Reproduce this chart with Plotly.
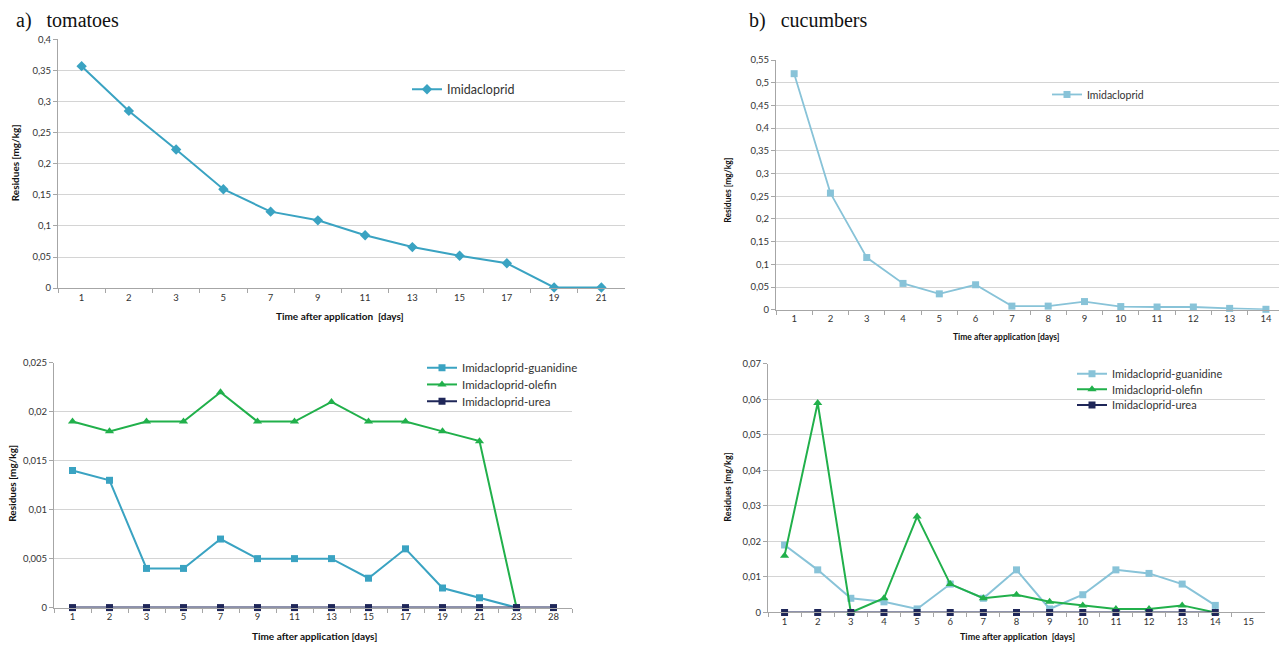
import plotly.graph_objects as go

W, H = 1279, 646

# ---------------- data ----------------
tom_days = ["1", "2", "3", "5", "7", "9", "11", "13", "15", "17", "19", "21"]
tom_imid = [0.357, 0.285, 0.223, 0.159, 0.123, 0.109, 0.085, 0.066, 0.052, 0.040, 0.001, 0.001]

cuc_days = ["1", "2", "3", "4", "5", "6", "7", "8", "9", "10", "11", "12", "13", "14"]
cuc_imid = [0.520, 0.257, 0.115, 0.058, 0.035, 0.055, 0.008, 0.008, 0.018, 0.007, 0.006, 0.006, 0.003, 0.001]

tom_met_days = ["1", "2", "3", "5", "7", "9", "11", "13", "15", "17", "19", "21", "23", "28"]
tom_guan = [0.014, 0.013, 0.004, 0.004, 0.007, 0.005, 0.005, 0.005, 0.003, 0.006, 0.002, 0.001, 0.0]
tom_olef = [0.019, 0.018, 0.019, 0.019, 0.022, 0.019, 0.019, 0.021, 0.019, 0.019, 0.018, 0.017, 0.0]
tom_urea = [0, 0, 0, 0, 0, 0, 0, 0, 0, 0, 0, 0, 0, 0]

cuc_met_days = ["1", "2", "3", "4", "5", "6", "7", "8", "9", "10", "11", "12", "13", "14", "15"]
cuc_guan = [0.019, 0.012, 0.004, 0.003, 0.001, 0.008, 0.004, 0.012, 0.001, 0.005, 0.012, 0.011, 0.008, 0.002]
cuc_olef = [0.016, 0.059, 0.0, 0.004, 0.027, 0.008, 0.004, 0.005, 0.003, 0.002, 0.001, 0.001, 0.002, 0.0]
cuc_urea = [0, 0, 0, 0, 0, 0, 0, 0, 0, 0, 0, 0, 0, 0]

# ---------------- styles ----------------
C_TOM = "#3AA3C2"
C_CUC = "#88C3D8"
C_GREEN = "#21B04B"
C_NAVY = "#1F2759"
FONT = "Lato, 'Open Sans', sans-serif"

def px_x(p):
    return p / W

def px_y(p):
    return 1 - p / H

fig = go.Figure()

def line(x, y, name, color, symbol, msize, width, xa, ya, lg):
    fig.add_trace(go.Scatter(x=x, y=y, name=name, mode="lines+markers",
                             line=dict(color=color, width=width),
                             marker=dict(symbol=symbol, size=msize, color=color),
                             xaxis=xa, yaxis=ya, legend=lg, cliponaxis=False))

line(tom_days, tom_imid, "Imidacloprid", C_TOM, "diamond", 8, 2, "x", "y", "legend")
line(cuc_days, cuc_imid, "Imidacloprid", C_CUC, "square", 7, 1.8, "x2", "y2", "legend2")
line(tom_met_days[:len(tom_guan)], tom_guan, "Imidacloprid-guanidine", C_TOM, "square", 7, 2, "x3", "y3", "legend3")
line(tom_met_days[:len(tom_olef)], tom_olef, "Imidacloprid-olefin", C_GREEN, "triangle-up", 8, 2, "x3", "y3", "legend4")
line(tom_met_days[:len(tom_urea)], tom_urea, "Imidacloprid-urea", C_NAVY, "square", 7, 2, "x3", "y3", "legend5")
line(cuc_met_days[:len(cuc_guan)], cuc_guan, "Imidacloprid-guanidine", C_CUC, "square", 7, 2, "x4", "y4", "legend6")
line(cuc_met_days[:len(cuc_olef)], cuc_olef, "Imidacloprid-olefin", C_GREEN, "triangle-up", 8, 2, "x4", "y4", "legend7")
line(cuc_met_days[:len(cuc_urea)], cuc_urea, "Imidacloprid-urea", C_NAVY, "square", 7, 2, "x4", "y4", "legend8")

def xax(domain, cats, anchor, right=None):
    r = len(cats) - 0.5 if right is None else right
    return dict(domain=domain, type="category", categoryorder="array", categoryarray=cats,
                range=[-0.5, r], anchor=anchor, showgrid=False, zeroline=False,
                showline=True, linecolor="#A6A6A6", linewidth=1, ticks="outside", tickson="boundaries",
                ticklen=4, tickcolor="#A6A6A6", tickfont=dict(size=9.5, color="#333", family=FONT),
                fixedrange=True)

def yax(domain, rng, dtick, anchor):
    return dict(domain=domain, range=rng, dtick=dtick, anchor=anchor, showgrid=True,
                gridcolor="#D4D4D4", gridwidth=1, zeroline=False, showline=True, linecolor="#A6A6A6",
                linewidth=1, ticks="outside", ticklen=4, tickcolor="#A6A6A6",
                tickfont=dict(size=9.5, color="#333", family=FONT), fixedrange=True)

def leg(x, y, size):
    return dict(x=px_x(x), y=px_y(y), xanchor="left", yanchor="middle", bgcolor="rgba(0,0,0,0)",
                font=dict(size=size, color="#333", family=FONT), itemwidth=30)

fig.update_layout(
    width=W, height=H, margin=dict(l=0, r=0, t=0, b=0),
    paper_bgcolor="white", plot_bgcolor="white", separators=", ",
    font=dict(family=FONT, color="#222"),
    xaxis=xax([px_x(58), px_x(625)], tom_days, "y"),
    yaxis=yax([px_y(287), px_y(34)], [0, 0.4], 0.05, "x"),
    xaxis2=xax([px_x(776), px_x(1279)], cuc_days, "y2", right=13.36),
    yaxis2=yax([px_y(309), px_y(55)], [0, 0.55], 0.05, "x2"),
    xaxis3=xax([px_x(54), px_x(572)], tom_met_days, "y3"),
    yaxis3=yax([px_y(612), px_y(363)], [0, 0.025], 0.005, "x3"),
    xaxis4=xax([px_x(768), px_x(1265)], cuc_met_days, "y4"),
    yaxis4=yax([px_y(617), px_y(364)], [0, 0.07], 0.01, "x4"),
    legend=leg(407, 85, 12.5),
    legend2=leg(1047, 90, 10.5),
    legend3=leg(422, 368, 11.5),
    legend4=leg(422, 385, 11.5),
    legend5=leg(422, 402, 11.5),
    legend6=leg(1072, 374, 11),
    legend7=leg(1072, 390, 11),
    legend8=leg(1072, 406, 11),
    showlegend=True,
)

ann = []
def add_text(text, x, y, size, family=FONT, bold=False, angle=0, xanchor="center"):
    ann.append(dict(text=("<b>%s</b>" % text) if bold else text, x=px_x(x), y=px_y(y),
                    xref="paper", yref="paper", showarrow=False, textangle=angle,
                    xanchor=xanchor, yanchor="middle",
                    font=dict(size=size, family=family, color="#111")))

SERIF = "'Liberation Serif', 'DejaVu Serif', serif"
add_text("a)&nbsp;&nbsp;&nbsp;tomatoes", 14, 15, 20, family=SERIF, xanchor="left")
add_text("b)&nbsp;&nbsp;&nbsp;cucumbers", 747, 15, 20, family=SERIF, xanchor="left")
add_text("Time after application&nbsp;&nbsp;[days]", 340, 315, 10, bold=True)
add_text("Time after application [days]", 1006, 337, 8.5, bold=True)
add_text("Time after application [days]", 314, 641, 10, bold=True)
add_text("Time after application&nbsp;&nbsp;[days]", 1017, 641, 9, bold=True)
add_text("Residues [mg/kg]", 15, 160, 10, bold=True, angle=-90)
add_text("Residues [mg/kg]", 728, 188, 8.5, bold=True, angle=-90)
add_text("Residues [mg/kg]", 12, 486, 10, bold=True, angle=-90)
add_text("Residues [mg/kg]", 728, 490, 9, bold=True, angle=-90)
fig.update_layout(annotations=ann)

fig.write_html("out.html", config={"displayModeBar": False},
               post_script="document.body.style.margin='0';document.body.style.overflow='hidden';")
